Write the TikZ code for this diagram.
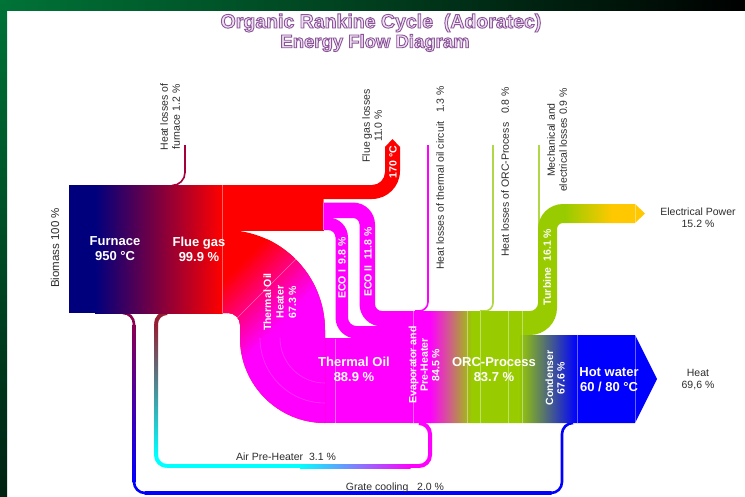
\documentclass[tikz,border=0pt]{standalone}
\usepackage{fontspec}
\setmainfont{Liberation Sans}
\definecolor{navyblk}{RGB}{0,0,125}
\definecolor{mag}{RGB}{255,0,255}
\definecolor{cyn}{RGB}{0,255,255}
\definecolor{rd}{RGB}{255,0,0}
\definecolor{bl}{RGB}{0,0,255}
\definecolor{orcgreen}{RGB}{153,204,0}
\definecolor{elecorange}{RGB}{255,200,0}
\definecolor{labgray}{RGB}{45,45,45}
\definecolor{furnlosscol}{RGB}{165,0,60}
\definecolor{lossgreen}{RGB}{175,215,70}
\definecolor{grateTop}{RGB}{140,0,80}
\definecolor{grateMid}{RGB}{175,175,255}
\definecolor{grateMid2}{RGB}{70,0,175}
\definecolor{airTop}{RGB}{150,30,50}
\definecolor{airMid}{RGB}{105,112,112}
\definecolor{titlefill}{RGB}{238,226,242}
\definecolor{topgreen}{RGB}{0,115,55}
\definecolor{topmid}{RGB}{0,62,30}
\definecolor{leftbot}{RGB}{0,35,18}
\newcommand\outlinetext[1]{\special{pdf:literal direct 2 Tr 0.9 w 0.55 0.33 0.60 RG}#1\special{pdf:literal direct 0 Tr}}
\begin{document}
\begin{tikzpicture}[x=1pt,y=-1pt,
  wlab/.style={text=white,font=\bfseries\fontsize{13}{15}\selectfont,align=center,inner sep=0pt},
  wrot/.style={text=white,font=\bfseries\fontsize{10.5}{11.5}\selectfont,align=center,rotate=90,inner sep=0pt},
  glab/.style={text=labgray,font=\fontsize{10.5}{12}\selectfont,align=center,inner sep=0pt},
  grot/.style={glab,rotate=90},
  titlestyle/.style={text=titlefill,font=\bfseries\fontsize{18.5}{20}\selectfont,inner sep=0pt},
  faint/.style={white,opacity=0.4,line width=0.6pt},
  lossline/.style={line width=1.6pt},
  gratew/.style={line width=2.6pt},
  airw/.style={line width=4pt}]
\useasboundingbox (0,0) rectangle (745,496);
% background
\fill[white] (0,0) rectangle (745,496);
\shade[left color=topgreen,right color=black,middle color=topmid] (0,0) rectangle (745,10);
\shade[top color=topgreen,bottom color=leftbot] (0,0) rectangle (7,496);

% thin loss lines
\draw[lossline,furnlosscol] (172,185.5) arc[start angle=90,end angle=0,radius=13] -- (185,145);
\draw[lossline,mag] (428,145) -- (428,302) arc[start angle=0,end angle=90,radius=9] -- (415,311);
\draw[lossline,lossgreen] (493,145) -- (493,303) arc[start angle=0,end angle=90,radius=8] -- (480,311);
\draw[lossline,lossgreen] (538.8,145) -- (538.8,235);

% grate cooling loop
\draw[gratew,grateTop] (123,313) arc[start angle=270,end angle=360,radius=11];
\shade[top color=grateTop,middle color=grateMid2,bottom color=bl] (132.7,324) rectangle (135.3,482);
\draw[gratew,bl] (134,482) arc[start angle=180,end angle=90,radius=11];
\shade[left color=bl,middle color=grateMid,right color=bl] (144.5,491.7) rectangle (551.5,494.3);
\draw[gratew,bl] (551,493) arc[start angle=90,end angle=0,radius=11] -- (562,434) arc[start angle=180,end angle=270,radius=11];

% air pre-heater loop
\draw[airw,airTop] (167,313) arc[start angle=270,end angle=180,radius=11];
\shade[top color=airTop,middle color=airMid,bottom color=cyn] (154,324) rectangle (158,455);
\draw[airw,cyn] (156,455) arc[start angle=180,end angle=90,radius=11];
\fill[cyn] (166.5,464) rectangle (300.5,468);
\shade[left color=cyn,right color=mag] (300,464) rectangle (410.5,468);
\fill[mag] (410,464) rectangle (419.5,468);
\draw[airw,mag] (419,466) arc[start angle=90,end angle=0,radius=11] -- (430,434) arc[start angle=0,end angle=-90,radius=11];

% furnace / flue gas block
\fill[navyblk] (69,185) rectangle (96,313);
\shade[left color=navyblk,right color=rd] (95,185) rectangle (222.5,313);
% red block and flue gas losses
\fill[rd] (222,184.8) rectangle (323.5,230.5);
\fill[rd] (222,199) -- (372,199) arc[start angle=90,end angle=0,radius=28] -- (400,147) -- (392.5,139) -- (385,147) -- (385,172) arc[start angle=0,end angle=90,radius=13] -- (222,185) -- cycle;

% ECO II
\fill[mag] (323,202.5) -- (353,202.5) arc[start angle=270,end angle=360,radius=22] -- (375,304) arc[start angle=180,end angle=90,radius=7] -- (432,311) -- (432,326.5) -- (382,326.5) arc[start angle=90,end angle=180,radius=22.5] -- (359.5,224.5) arc[start angle=0,end angle=-90,radius=6.5] -- (323,218) -- cycle;
% ECO I
\fill[mag] (323,217.5) -- (328,217.5) arc[start angle=270,end angle=360,radius=20] -- (348,317.5) arc[start angle=180,end angle=90,radius=8.5] -- (432,326) -- (432,338.5) -- (356.5,338.5) arc[start angle=90,end angle=180,radius=21] -- (335.5,237.5) arc[start angle=0,end angle=-90,radius=7.5] -- (323,230) -- cycle;
% thermal oil band
\fill[mag] (324,338) rectangle (432,423);

% thermal oil heater
\begin{scope}
\clip (222,230) -- (225,230) arc[start angle=270,end angle=360,radius=100] -- (325,423) arc[start angle=90,end angle=180,radius=85] -- (240,325) arc[start angle=0,end angle=-90,radius=12] -- (222,313) -- cycle;
\fill[rd] (210,220) rectangle (340,430);
\fill[mag] (405,200) -- (800,200) -- (800,450) -- (155,450) -- cycle;
\foreach \k in {0,...,19}{
  \pgfmathsetmacro\sa{505+5*\k}
  \pgfmathsetmacro\sb{\sa+5.6}
  \pgfmathsetmacro\pc{100-5*(\k+0.5)}
  \fill[rd!\pc!mag] (\sa-200,200) -- (\sb-200,200) -- (\sb-450,450) -- (\sa-450,450) -- cycle;
}
\end{scope}

% ORC / turbine / condenser / hot water
\begin{scope}
\clip (410,311) -- (530,311) arc[start angle=90,end angle=0,radius=8] -- (538,229) arc[start angle=180,end angle=270,radius=25] -- (635,204) -- (645,213.5) -- (635,223) -- (563,223) arc[start angle=270,end angle=180,radius=6] -- (557,308) arc[start angle=0,end angle=90,radius=27] -- (635,335) -- (657,379) -- (635,423) -- (410,423) -- cycle;
\fill[mag] (405,300) rectangle (431,430);
\shade[left color=mag,right color=orcgreen] (430,300) rectangle (472,430);
\fill[orcgreen] (471.5,195) rectangle (566,335.5);
\fill[orcgreen] (471.5,335) rectangle (519,430);
\shade[left color=orcgreen,right color=bl] (518.5,335) rectangle (577,430);
\fill[bl] (576.5,335) rectangle (660,430);
\shade[left color=orcgreen,right color=elecorange] (565.5,195) rectangle (612,230);
\fill[elecorange] (611.5,195) rectangle (650,230);
\end{scope}

% faint separator lines
\draw[faint] (222.5,185) -- (222.5,313);
\draw[faint] (323.5,199) -- (323.5,230);
\draw[faint] (232,323) -- (296,259);
\draw[faint,opacity=0.2] (325,403) arc[start angle=90,end angle=180,radius=65];
\draw[faint,opacity=0.2] (325,383) arc[start angle=90,end angle=180,radius=45];
\draw[faint] (335,338.5) -- (335,423);
\foreach \xx in {413,467,480,508,522}{\draw[faint] (\xx,311) -- (\xx,423);}
\draw[faint] (577,335) -- (577,423);
\draw[faint] (635,335) -- (635,423);
\draw[faint] (635,204) -- (635,223);

% title
\node[titlestyle,font=\bfseries\fontsize{19.5}{21}\selectfont] (title1) at (381,23) {\outlinetext{Organic Rankine Cycle~ (Adoratec)}};
\node[titlestyle] (title2) at (375,43) {\outlinetext{Energy Flow Diagram}};

% white labels
\node[wlab] (furnace) at (115,249) {Furnace\\950 °C};
\node[wlab] (fluegas) at (199,249) {Flue gas\\99.9 \%};
\node[wlab] (thermoil) at (354,369) {Thermal Oil\\88.9 \%};
\node[wlab] (orc) at (494,370) {ORC-Process\\83.7 \%};
\node[wlab] (hotwater) at (609,380) {Hot water\\60 / 80 °C};
\node[wrot] (t170) at (393,162) {170 °C};
\node[wrot] (eco1) at (342,268) {ECO I~ 9.8 \%};
\node[wrot] (eco2) at (368,262) {ECO II~ 11.8 \%};
\node[wrot,font=\bfseries\fontsize{10.5}{12.5}\selectfont] (heater) at (280,302) {Thermal Oil\\Heater\\67.3 \%};
\node[wrot] (evap) at (424,365) {Evaporator and\\Pre-Heater\\84.5 \%};
\node[wrot] (turbine) at (547,267) {Turbine~ 16.1 \%};
\node[wrot] (condenser) at (555,378) {Condenser\\67.6 \%};

% gray labels
\node[grot,font=\fontsize{11.5}{13}\selectfont] (biomass) at (55,248) {Biomass 100 \%};
\node[grot] (furnlossl) at (170,117) {Heat losses of\\furnace 1.2 \%};
\node[grot] (fluelossl) at (372,126) {Flue gas losses\\11.0 \%};
\node[grot] (tolossl) at (440,178) {Heat losses of thermal oil circuit~~ 1.3 \%};
\node[grot] (orclossl) at (505,172) {Heat losses of ORC-Process~~ 0.8 \%};
\node[grot] (mechlossl) at (557,140) {Mechanical and\\electrical losses 0.9 \%};
\node[glab] (elec) at (698,218) {Electrical Power\\15.2 \%};
\node[glab] (heat) at (698,380) {Heat\\69,6 \%};
\node[glab] (airpre) at (286,457) {Air Pre-Heater~ 3.1 \%};
\node[glab] (grate) at (395,488) {Grate cooling~~ 2.0 \%};
\end{tikzpicture}
\end{document}
